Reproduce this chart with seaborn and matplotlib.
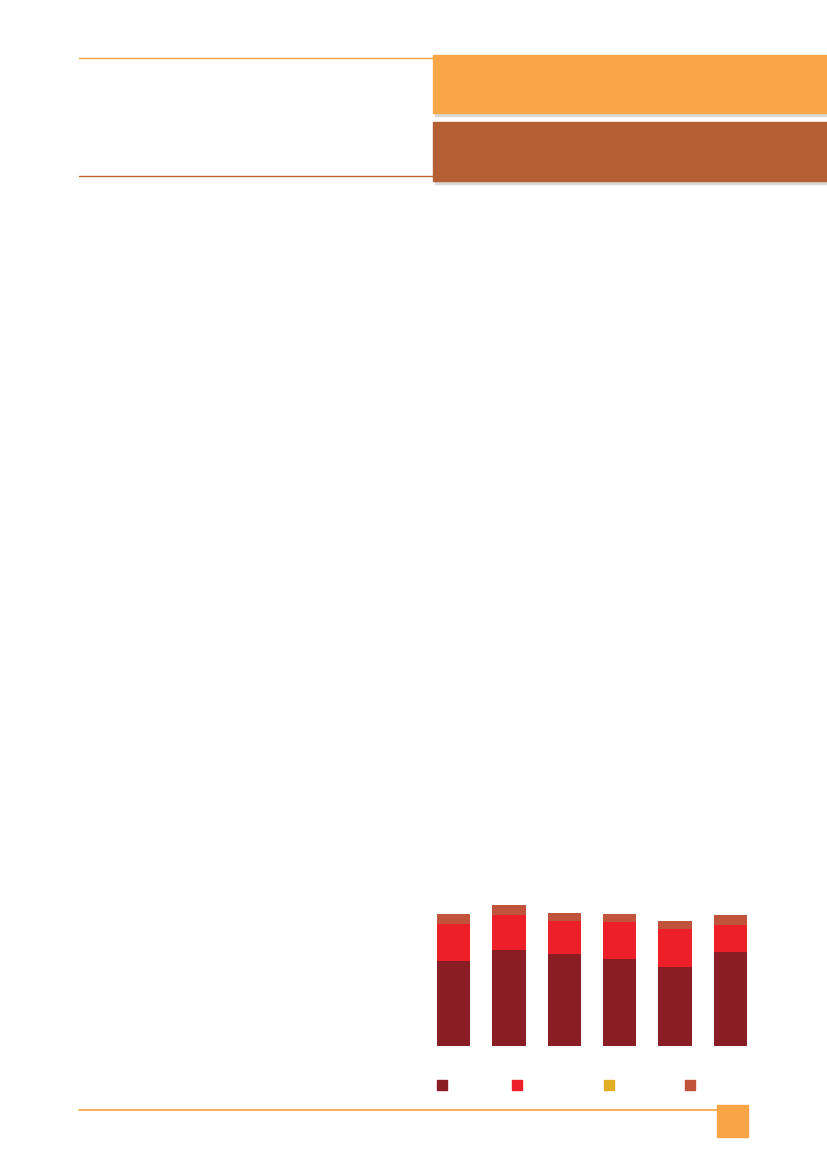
import matplotlib
matplotlib.use("Agg")
import matplotlib.pyplot as plt
import numpy as np
import pandas as pd
import seaborn as sns
from matplotlib.patches import Rectangle

W, H = 827, 1169

# stacked bar values
groups = ["1", "2", "3", "4", "5", "6"]
dark = [85.0, 96.0, 91.7, 87.3, 79.3, 94.3]
red = [37.3, 34.7, 33.0, 37.0, 37.4, 27.0]
yellow = [0.0, 0.0, 0.0, 0.0, 0.0, 0.0]
brown = [9.4, 10.3, 8.0, 8.0, 8.3, 10.0]

series_colors = ["#8a1c23", "#ed1f28", "#e2ae24", "#c0533a"]


def px(x0, y0, x1, y1):
    """pixel box (top-left origin) -> figure fraction rect"""
    return [x0 / W, 1 - y1 / H, (x1 - x0) / W, (y1 - y0) / H]


sns.set_theme(style="white")
fig = plt.figure(figsize=(W / 100, H / 100), dpi=100)
fig.patch.set_facecolor("white")

# page furniture
def box(x0, y0, x1, y1, color, shadow=False):
    if shadow:
        fig.patches.append(Rectangle((x0 / W + 0.002, 1 - (y1 + 3) / H),
                                     (x1 - x0) / W, (y1 - y0) / H,
                                     transform=fig.transFigure,
                                     color="#d8d8d8", zorder=0))
    fig.patches.append(Rectangle((x0 / W, 1 - y1 / H), (x1 - x0) / W, (y1 - y0) / H,
                                 transform=fig.transFigure, color=color, zorder=1))


box(433, 55, 827, 113, "#f9a647", shadow=True)
box(433, 122, 827, 181, "#b45f33", shadow=True)
fig.lines.append(plt.Line2D([79 / W, 433 / W], [1 - 58 / H] * 2,
                            transform=fig.transFigure, color="#f9a13a", lw=1))
fig.lines.append(plt.Line2D([79 / W, 433 / W], [1 - 176 / H] * 2,
                            transform=fig.transFigure, color="#c0602a", lw=1))
fig.lines.append(plt.Line2D([79 / W, 717 / W], [1 - 1110 / H] * 2,
                            transform=fig.transFigure, color="#f9a23a", lw=1.2))
box(717, 1105, 748, 1137, "#f9a546")

# chart
ax = fig.add_axes(px(425.8, 896, 758.2, 1046))
df = pd.DataFrame({"group": groups, "dark": dark, "red": red,
                   "yellow": yellow, "brown": brown})
cols = ["dark", "red", "yellow", "brown"]
cum = df[cols].cumsum(axis=1)
for col, color in reversed(list(zip(cols, series_colors))):
    sns.barplot(x=df["group"], y=cum[col], color=color, width=0.6,
                saturation=1, ax=ax, linewidth=0)
ax.set_xlim(-0.5, 5.5)
ax.set_ylim(0, 150)
ax.set_axis_off()

# legend swatches (no text)
for x0, color in zip([437, 512, 604, 685], series_colors):
    box(x0, 1080, x0 + 10, 1090, color)

fig.savefig("out.png", dpi=100)
